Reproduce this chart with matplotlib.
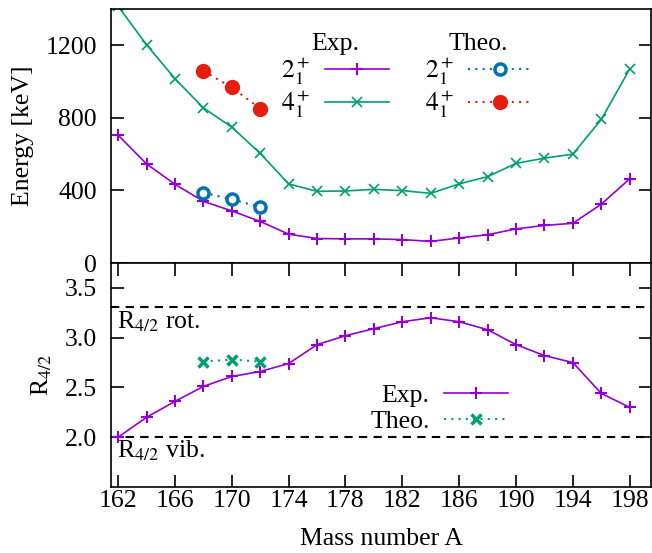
import matplotlib
matplotlib.use("Agg")
import matplotlib.pyplot as plt

plt.rcParams['font.family'] = ['Liberation Serif', 'DejaVu Serif']
plt.rcParams['mathtext.fontset'] = 'stix'

# ---- data ----
mass = [162, 164, 166, 168, 170, 172, 174, 176, 178, 180, 182, 184, 186, 188, 190, 192, 194, 196, 198]
e2_exp = [705, 546, 434, 340, 287, 229, 159, 135, 133, 133, 129, 119, 138, 156, 188, 207, 219, 324, 464]
e4_exp = [1415, 1203, 1016, 855, 749, 604, 436, 395, 397, 406, 399, 384, 436, 476, 549, 578, 600, 791, 1069]
mass_theo = [168, 170, 172]
e2_theo = [388, 351, 308]
e4_theo = [1058, 968, 851]
r42_exp = [2.00, 2.20, 2.36, 2.51, 2.61, 2.66, 2.74, 2.93, 3.02, 3.09, 3.16, 3.20, 3.16, 3.08, 2.93, 2.82, 2.75, 2.44, 2.30]
r42_theo = [2.76, 2.78, 2.76]
r_rot = 3.31
r_vib = 2.0
xticks = [162, 166, 170, 174, 178, 182, 186, 190, 194, 198]
eticks = [0, 400, 800, 1200]
rticks = [2.0, 2.5, 3.0, 3.5]

C_PURPLE = '#9400D3'
C_GREEN = '#009E73'
C_BLUE = '#0072B2'
C_RED = '#E51E10'
FS = 18.5

fig = plt.figure(figsize=(6.52, 5.53), dpi=100)
W, H = 652, 553
ax1 = fig.add_axes([111 / W, 1 - 263 / H, 540 / W, 254 / H])
ax2 = fig.add_axes([111 / W, 1 - 487 / H, 540 / W, 224 / H])

for ax in (ax1, ax2):
    for s in ax.spines.values():
        s.set_linewidth(1.2)
    ax.set_xlim(161.5, 199.5)
    ax.tick_params(direction='in', length=9, width=1.2, labelsize=FS, right=True)
    ax.tick_params(axis='y', pad=10)
    ax.tick_params(axis='x', pad=2)

# ---- top panel ----
l2e, = ax1.plot(mass, e2_exp, color=C_PURPLE, lw=1.2, marker='+', ms=9, mew=1.5)
l4e, = ax1.plot(mass, e4_exp, color=C_GREEN, lw=1.2, marker='x', ms=7, mew=1.2)
l2t, = ax1.plot(mass_theo, e2_theo, color=C_BLUE, lw=1.5, ls=(0, (1, 2.5)), marker='o', ms=8,
                mfc='white', mec=C_BLUE, mew=2.5)
l4t, = ax1.plot(mass_theo, e4_theo, color=C_RED, lw=1.5, ls=(0, (1, 2.5)), marker='o', ms=10,
                mfc=C_RED, mec=C_RED)
ax1.set_ylim(0, 1400)
ax1.set_yticks(eticks)
ax1.set_xticks(xticks)
ax1.tick_params(axis='x', bottom=False, labelbottom=False)
ax1.set_ylabel('Energy [keV]', fontsize=FS, labelpad=8)

leg_kw = dict(title_fontsize=FS, fontsize=FS, frameon=False, markerfirst=False,
              handlelength=2.5, handletextpad=0.55, labelspacing=0.05, loc='center',
              borderpad=0, borderaxespad=0)
leg1 = ax1.legend([l2e, l4e], [r'$2_1^+$', r'$4_1^+$'], title='Exp.',
                  bbox_to_anchor=(177.26, 1030), bbox_transform=ax1.transData, **leg_kw)
ax1.add_artist(leg1)
leg2 = ax1.legend([l2t, l4t], [r'$2_1^+$', r'$4_1^+$'], title='Theo.',
                  bbox_to_anchor=(187.37, 1030), bbox_transform=ax1.transData, **leg_kw)

# ---- bottom panel ----
ax2.axhline(r_rot, color='black', lw=1.5, ls=(0, (4, 3)))
ax2.axhline(r_vib, color='black', lw=1.5, ls=(0, (4, 3)))
lre, = ax2.plot(mass, r42_exp, color=C_PURPLE, lw=1.2, marker='+', ms=9, mew=1.5)
lrt, = ax2.plot(mass_theo, r42_theo, color=C_GREEN, lw=1.5, ls=(0, (1, 2.5)), marker='x', ms=7, mew=2.5)
ax2.set_ylim(1.5, 3.75)
ax2.set_yticks(rticks)
ax2.set_yticklabels(['%.1f' % v for v in rticks])
ax2.set_xticks(xticks)
ax2.tick_params(axis='x', top=True)
ax2.set_xlabel('Mass number A', fontsize=FS, labelpad=12)
ax2.set_ylabel(r'R$_{4/2}$', fontsize=FS, labelpad=8)
ax2.text(161.9, 3.165, r'R$_{4/2}$ rot.', fontsize=FS, ha='left', va='center')
ax2.text(161.9, 1.865, r'R$_{4/2}$ vib.', fontsize=FS, ha='left', va='center')
ax2.legend([lre, lrt], ['Exp.', 'Theo.'], fontsize=FS, frameon=False, markerfirst=False,
           handlelength=2.5, handletextpad=0.55, labelspacing=0.15, loc='center',
           bbox_to_anchor=(184.59, 2.288), bbox_transform=ax2.transData, borderpad=0,
           borderaxespad=0)

fig.align_ylabels([ax1, ax2])
fig.savefig('out.png', dpi=100)
